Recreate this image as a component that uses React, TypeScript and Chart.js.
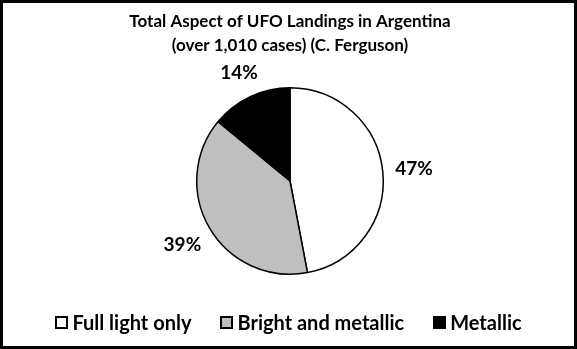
import React, { useEffect, useRef } from "react";
import { Chart, registerables } from "chart.js";

Chart.register(...registerables);

const categories = ["Full light only", "Bright and metallic", "Metallic"];
const percentValues = [47, 39, 14];
const sliceColors = ["#ffffff", "#bfbfbf", "#000000"];
const titleLines = ["Total Aspect of UFO Landings in Argentina", "(over 1,010 cases) (C. Ferguson)"];

const FONT = "Lato, 'Noto Sans', sans-serif";

const outsideLabels = {
  id: "outsideLabels",
  afterDatasetsDraw(chart: any) {
    const ctx = chart.ctx;
    const meta = chart.getDatasetMeta(0);
    ctx.save();
    ctx.font = `bold 19px ${FONT}`;
    ctx.fillStyle = "#000";
    ctx.textAlign = "center";
    ctx.textBaseline = "middle";
    meta.data.forEach((arc: any, i: number) => {
      const { x, y, startAngle, endAngle, outerRadius } = arc.getProps(
        ["x", "y", "startAngle", "endAngle", "outerRadius"],
        true
      );
      const mid = (startAngle + endAngle) / 2;
      const text = `${percentValues[i]}%`;
      const w = ctx.measureText(text).width;
      const h = 14;
      const c = Math.cos(mid);
      const s = Math.sin(mid);
      const d = outerRadius + 12 + Math.abs(c) * (w / 2) + Math.abs(s) * (h / 2);
      ctx.fillText(text, x + c * d, y + s * d);
    });
    ctx.restore();
  },
};

export default function App() {
  const ref = useRef<HTMLCanvasElement | null>(null);

  useEffect(() => {
    document.body.style.margin = "0";
    if (!ref.current) return;
    const chart = new Chart(ref.current, {
      type: "pie",
      data: {
        labels: categories,
        datasets: [
          {
            data: percentValues,
            backgroundColor: sliceColors,
            borderColor: "#000",
            borderWidth: 1.5,
          },
        ],
      },
      options: {
        animation: false,
        responsive: false,
        maintainAspectRatio: false,
        layout: { padding: { top: 0, bottom: 71, left: 20, right: 17 } },
        plugins: {
          legend: { display: false },
          tooltip: { enabled: false },
          title: {
            display: true,
            text: titleLines,
            color: "#000",
            font: { family: FONT, size: 17, weight: "bold", lineHeight: 24 / 17 },
            padding: { top: 7, bottom: 29 },
          },
        },
      },
      plugins: [outsideLabels],
    });
    return () => chart.destroy();
  }, []);

  return (
    <div
      style={{
        position: "fixed",
        left: 0,
        top: 0,
        width: 577,
        height: 349,
        boxSizing: "border-box",
        border: "3px solid #000",
        background: "#fff",
      }}
    >
      <canvas ref={ref} width={571} height={343} style={{ position: "absolute", left: 0, top: 0, width: 571, height: 343 }} />
      <div
        style={{
          position: "absolute",
          left: 0,
          width: 571,
          top: 307,
          height: 24,
          display: "flex",
          justifyContent: "center",
          alignItems: "center",
          fontFamily: FONT,
          fontWeight: "bold",
          fontSize: 20,
          color: "#000",
          gap: 29,
          lineHeight: "24px",
        }}
      >
        {categories.map((c, i) => (
          <div key={c} style={{ display: "flex", alignItems: "center" }}>
            <span
              style={{
                display: "inline-block",
                width: 13,
                height: 13,
                boxSizing: "border-box",
                border: "2px solid #000",
                background: sliceColors[i],
                marginRight: 4,
              }}
            />
            <span>{c}</span>
          </div>
        ))}
      </div>
    </div>
  );
}
